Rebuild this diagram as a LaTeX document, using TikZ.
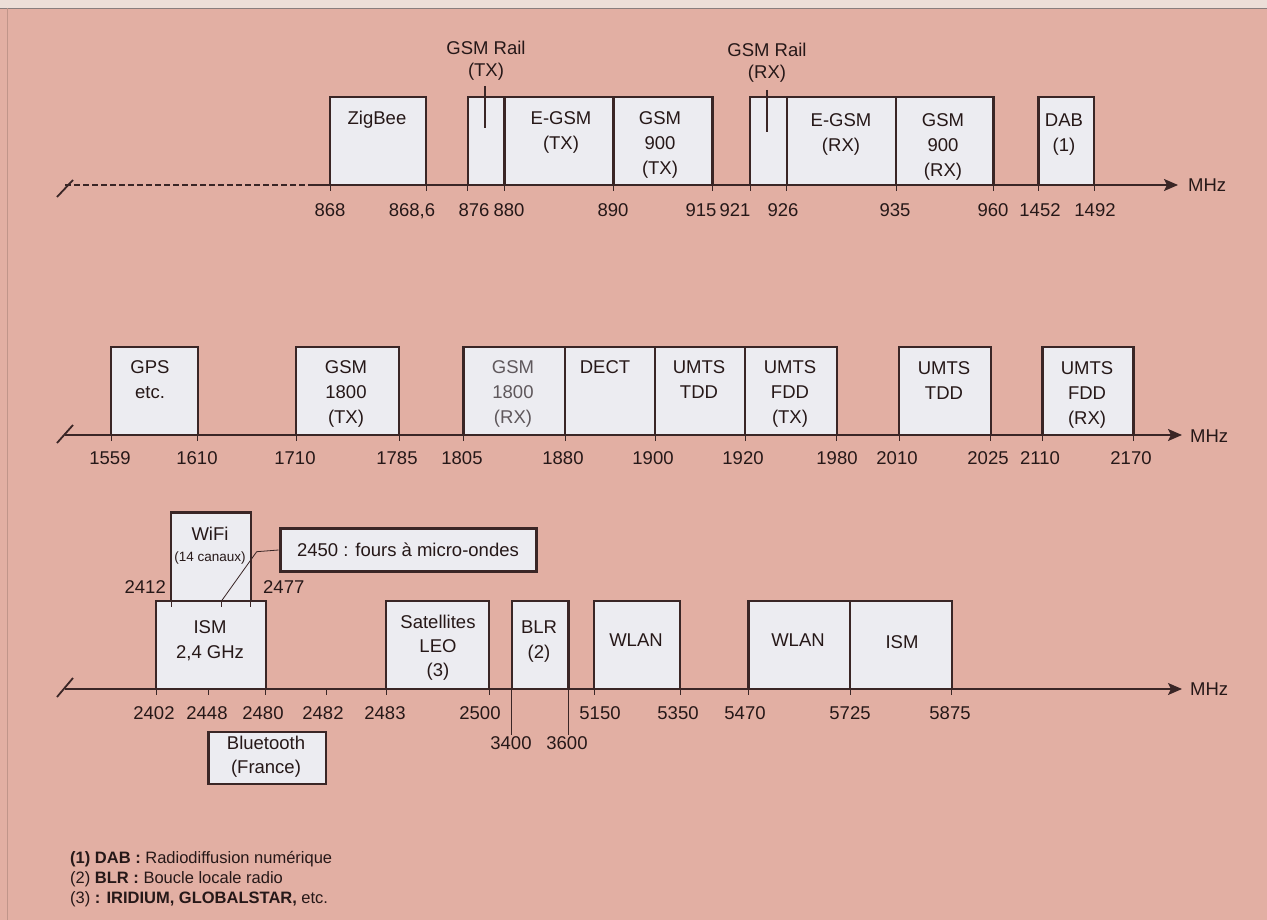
\documentclass[tikz,border=0pt]{standalone}
\usepackage{fontspec}
\setmainfont{Liberation Sans}
\usetikzlibrary{arrows.meta}
\definecolor{bg}{RGB}{226,175,163}
\definecolor{topstrip}{RGB}{236,222,216}
\definecolor{boxfill}{RGB}{236,236,241}
\definecolor{edge}{RGB}{58,38,38}
\definecolor{ink}{RGB}{38,24,24}
\definecolor{greyink}{RGB}{95,88,92}
\tikzset{
  band/.style={draw=edge, fill=boxfill, line width=2.4pt},
  axisline/.style={draw=edge, line width=1.8pt},
  tickmark/.style={draw=edge, line width=0.9pt},
  lbl/.style={anchor=base, align=center, text=ink, inner sep=0pt, font=\fontsize{18.5}{25}\selectfont},
  num/.style={anchor=base, text=ink, inner sep=0pt, font=\fontsize{18.5}{22}\selectfont},
  note/.style={anchor=base west, text=ink, inner sep=0pt, font=\fontsize{16.5}{20}\selectfont},
  arrowtip/.style={-{Stealth[length=14pt,width=12pt,inset=3pt]}},
}
\begin{document}
\begin{tikzpicture}[x=1pt,y=-1pt]
\useasboundingbox (0,0) rectangle (1267,920);
\fill[bg] (0,0) rectangle (1267,920);
\fill[topstrip] (0,0) rectangle (1267,8);
\draw[edge!60, line width=0.6pt] (0,8) -- (1267,8);
\draw[bg!85!black, line width=0.5pt] (7,8) -- (7,920);

%================ TOP ROW =================
\draw[band] (330,97) rectangle (426,185);
\draw[band] (467.7,97) rectangle (504.3,185);
\draw[band] (504.3,97) rectangle (613.3,185);
\draw[band] (613.3,97) rectangle (712.3,185);
\draw[band] (750,97) rectangle (786.7,185);
\draw[band] (786.7,97) rectangle (896,185);
\draw[band] (896,97) rectangle (993.3,185);
\draw[band] (1038.3,97) rectangle (1094,185);
\draw[edge, line width=1.6pt] (485,86) -- (485,128);
\draw[edge, line width=1.6pt] (766.7,90) -- (766.7,132);

\coordinate (ta) at (65,185);
\coordinate (tb) at (312,185);
\coordinate (tc) at (1178,185);
\draw[axisline] (57,197) -- (73,180);
\draw[axisline, dash pattern=on 6pt off 3pt] (ta) -- (tb);
\draw[axisline, arrowtip] (tb) -- (tc);
\foreach \x in {330,426,467.7,504.3,613.3,712.3,750,786.7,896,993.3,1038.3,1094}
  \draw[tickmark] (\x,185) -- (\x,191);
\foreach \x/\t [count=\i] in {330/868,412/{868,6},474/876,509/880,613/890,701/915,735/921,783/926,895/935,993/960,1040/1452,1095/1492}
  \node[num] (tn\i) at (\x,216.6) {\t};
\node[num, anchor=base west] (mhz1) at (1188,191.6) {MHz};

% multi-line nodes: anchor=base is the baseline of the LAST line
\node[lbl] (zig) at (377,124.6) {ZigBee};
\node[lbl] (egsmtx) at (561,149.6) {E-GSM\\(TX)};
\node[lbl] (gsm9tx) at (660,174.6) {GSM\\900\\(TX)};
\node[lbl] (egsmrx) at (841,151.6) {E-GSM\\(RX)};
\node[lbl] (gsm9rx) at (943,176.6) {GSM\\900\\(RX)};
\node[lbl] (dab) at (1064,151.6) {DAB\\(1)};
\node[lbl, font=\fontsize{18.5}{22}\selectfont] (railtx) at (486,76.6) {GSM Rail\\(TX)};
\node[lbl, font=\fontsize{18.5}{22}\selectfont] (railrx) at (767,78.6) {GSM Rail\\(RX)};

%================ MIDDLE ROW =================
\draw[band] (111,347) rectangle (197.7,435);
\draw[band] (296,347) rectangle (399,435);
\draw[band] (463.3,347) rectangle (565,435);
\draw[band] (565,347) rectangle (655,435);
\draw[band] (655,347) rectangle (745,435);
\draw[band] (745,347) rectangle (836.7,435);
\draw[band] (899,347) rectangle (990.7,435);
\draw[band] (1042.3,347) rectangle (1133.3,435);

\coordinate (ma) at (65,435);
\coordinate (mb) at (1182,435);
\draw[axisline] (57,443) -- (73,425);
\draw[axisline, arrowtip] (ma) -- (mb);
\foreach \x in {111,197.7,296,399,463.3,565,655,745,836.7,899,990.7,1042.3,1133.3}
  \draw[tickmark] (\x,435) -- (\x,441);
\foreach \x/\t [count=\i] in {110/1559,197/1610,295/1710,397/1785,462/1805,563/1880,653/1900,743/1920,837/1980,897/2010,988/2025,1040/2110,1131/2170}
  \node[num] (mn\i) at (\x,464.6) {\t};
\node[num, anchor=base west] (mhz2) at (1190,442.6) {MHz};

\node[lbl] (gps) at (150,398.6) {GPS\\etc.};
\node[lbl] (g18tx) at (346,423.6) {GSM\\1800\\(TX)};
\node[lbl, text=greyink] (g18rx) at (513,423.6) {GSM\\1800\\(RX)};
\node[lbl] (dect) at (605,373.6) {DECT};
\node[lbl] (tdd1) at (699,398.6) {UMTS\\TDD};
\node[lbl] (fddtx) at (790,423.6) {UMTS\\FDD\\(TX)};
\node[lbl] (tdd2) at (944,399.6) {UMTS\\TDD};
\node[lbl] (fddrx) at (1087,424.6) {UMTS\\FDD\\(RX)};

%================ BOTTOM ROW =================
\draw[band] (171,512.3) rectangle (250.7,600.7);
\draw[band] (156,600.7) rectangle (265.7,689);
\draw[band] (386,600.7) rectangle (489,689);
\draw[band] (511.7,600.7) rectangle (568.3,689);
\draw[band] (594,600.7) rectangle (680,689);
\draw[band] (748.3,600.7) rectangle (850,689);
\draw[band] (850,600.7) rectangle (951.7,689);
\draw[band] (208.3,731.7) rectangle (326,784);

\foreach \x in {171,221.7,250.7}
  \draw[tickmark] (\x,600.7) -- (\x,607);

\node[lbl] (wifi) at (210,540.6) {WiFi};
\node[anchor=base, text=ink, inner sep=1.5pt, fill=boxfill, font=\fontsize{13.5}{16}\selectfont] (canaux) at (210,561.8) {(14 canaux)};
\node[num, anchor=base east] (n2412) at (166,593.6) {2412};
\node[num, anchor=base west] (n2477) at (263,593.6) {2477};

\node[draw=edge, fill=boxfill, line width=3pt, minimum width=256pt, minimum height=43.4pt, inner sep=0pt, text=ink, font=\fontsize{18.5}{22}\selectfont] (mw) at (408,550) {2450 : fours à micro-ondes};
\coordinate (f2450) at (221.7,600.7);
\coordinate (bend) at (256.7,551.7);
\draw[edge, line width=0.8pt] (f2450) -- (bend) -- (mw.west);

\coordinate (ba) at (65,689);
\coordinate (bb) at (1182,689);
\draw[axisline] (57,697) -- (73,678);
\draw[axisline, arrowtip] (ba) -- (bb);
\foreach \x in {156,208,265.7,326,386.7,489,594,680,748.3,850,951.7}
  \draw[tickmark] (\x,689) -- (\x,695);
\draw[tickmark] (511.7,689) -- (511.7,735);
\draw[tickmark] (568.3,689) -- (568.3,735);
\foreach \x/\t [count=\i] in {154/2402,207/2448,263/2480,323/2482,385/2483,480/2500,600/5150,678/5350,745/5470,850/5725,950/5875}
  \node[num] (bn\i) at (\x,719.6) {\t};
\node[num] (n3400) at (511,749.6) {3400};
\node[num] (n3600) at (567,749.6) {3600};
\node[num, anchor=base west] (mhz3) at (1190,695.6) {MHz};

\node[lbl] (ism24) at (210,658.6) {ISM\\2,4 GHz};
\node[lbl, font=\fontsize{18.5}{24}\selectfont] (sat) at (438,676.6) {Satellites\\LEO\\(3)};
\node[lbl] (blr) at (539,658.6) {BLR\\(2)};
\node[lbl] (wlan1) at (636,646.6) {WLAN};
\node[lbl] (wlan2) at (798,646.6) {WLAN};
\node[lbl] (ism5) at (902,648.6) {ISM};
\node[lbl, font=\fontsize{18.5}{24}\selectfont] (bt) at (266,773.6) {Bluetooth\\(France)};

%================ NOTES =================
\node[note] (fn1) at (70,863) {\textbf{(1) DAB :} Radiodiffusion numérique};
\node[note] (fn2) at (70,883) {(2) \textbf{BLR :} Boucle locale radio};
\node[note] (fn3) at (70,903) {(3) \textbf{: IRIDIUM, GLOBALSTAR,} etc.};
\end{tikzpicture}
\end{document}
